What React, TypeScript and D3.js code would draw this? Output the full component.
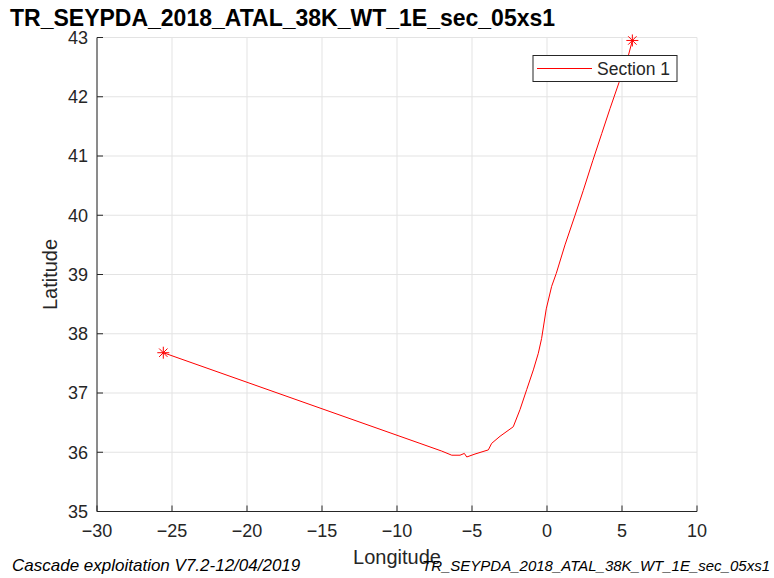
import React from "react";
import * as d3 from "d3";

// Ship track for section 1 (degrees)
const lon = [-25.58, -8.47, -7.02, -6.35, -5.8, -5.51, -5.35, -4.8, -3.91, -3.69, -3.13, -2.25, -1.8, -1.35, -0.91, -0.58, -0.36, -0.05, 0.31, 0.62, 1.2, 1.87, 2.42, 3.05, 3.65, 4.2, 4.8, 5.45, 5.69];
const lat = [37.68, 36.15, 36.02, 35.95, 35.95, 35.98, 35.92, 35.97, 36.04, 36.15, 36.27, 36.43, 36.72, 37.06, 37.39, 37.67, 37.92, 38.42, 38.8, 39.02, 39.5, 40.0, 40.42, 40.92, 41.38, 41.8, 42.24, 42.72, 42.95];

const xTicks = [-30, -25, -20, -15, -10, -5, 0, 5, 10];
const yTicks = [35, 36, 37, 38, 39, 40, 41, 42, 43];

const titleText = "TR_SEYPDA_2018_ATAL_38K_WT_1E_sec_05xs1";
const footerLeft = "Cascade exploitation V7.2-12/04/2019";
const footerRight = "TR_SEYPDA_2018_ATAL_38K_WT_1E_sec_05xs1";
const legendLabel = "Section 1";

const W = 774;
const H = 578;
const L = 97, R = 697, T = 37.5, B = 511.5;
const AX = "#262626";
const GRID = "#e3e3e3";
const FONT = "'Liberation Sans', Arial, Helvetica, sans-serif";

const fmt = (v: number) => (v < 0 ? "\u2212" + Math.abs(v) : String(v));

function Star({ x, y }: { x: number; y: number }) {
  const r = 6;
  const d = r * 0.7;
  return (
    <g stroke="#ff0000" strokeWidth={1}>
      <line x1={x - r} y1={y} x2={x + r} y2={y} />
      <line x1={x} y1={y - r} x2={x} y2={y + r} />
      <line x1={x - d} y1={y - d} x2={x + d} y2={y + d} />
      <line x1={x - d} y1={y + d} x2={x + d} y2={y - d} />
    </g>
  );
}

export default function App() {
  const x = d3.scaleLinear().domain([-30, 10]).range([L, R]);
  const y = d3.scaleLinear().domain([35, 43]).range([B, T]);
  const pts = lon.map((v, i) => [v, lat[i]] as [number, number]);
  const path = d3
    .line<[number, number]>()
    .x((d) => x(d[0]))
    .y((d) => y(d[1]))(pts) as string;
  const first = pts[0];
  const last = pts[pts.length - 1];

  return (
    <svg
      width={W}
      height={H}
      viewBox={`0 0 ${W} ${H}`}
      style={{ position: "fixed", left: 0, top: 0, background: "#fff" }}
      fontFamily={FONT}
    >
      <rect x={0} y={0} width={W} height={H} fill="#fff" />
      {/* grid */}
      {xTicks.map((t) => (
        <line key={"gx" + t} x1={x(t)} x2={x(t)} y1={T} y2={B} stroke={GRID} strokeWidth={1} />
      ))}
      {yTicks.map((t) => (
        <line key={"gy" + t} x1={L} x2={R} y1={y(t)} y2={y(t)} stroke={GRID} strokeWidth={1} />
      ))}

      {/* track */}
      <path d={path} fill="none" stroke="#ff0000" strokeWidth={1} strokeLinejoin="round" />
      <Star x={x(first[0])} y={y(first[1])} />
      <Star x={x(last[0])} y={y(last[1])} />

      {/* axes */}
      <line x1={L} x2={L} y1={T} y2={B} stroke={AX} strokeWidth={1} />
      <line x1={L} x2={R} y1={B} y2={B} stroke={AX} strokeWidth={1} />
      {yTicks.map((t) => (
        <g key={"ty" + t}>
          <line x1={L} x2={L + 6} y1={y(t)} y2={y(t)} stroke={AX} strokeWidth={1} />
          <text x={88} y={y(t)} dy="0.35em" textAnchor="end" fontSize={18} fill={AX}>
            {t}
          </text>
        </g>
      ))}
      {xTicks.map((t) => (
        <g key={"tx" + t}>
          <line x1={x(t)} x2={x(t)} y1={B} y2={B - 6} stroke={AX} strokeWidth={1} />
          <text x={x(t)} y={537} textAnchor="middle" fontSize={18} fill={AX}>
            {fmt(t)}
          </text>
        </g>
      ))}

      {/* axis labels */}
      <text
        transform={`translate(57,${(T + B) / 2}) rotate(-90)`}
        textAnchor="middle"
        fontSize={20}
        fill={AX}
      >
        Latitude
      </text>
      <text x={(L + R) / 2} y={564} textAnchor="middle" fontSize={20} fill={AX}>
        Longitude
      </text>

      {/* legend */}
      <rect x={533} y={55.5} width={144} height={26} fill="#fff" stroke={AX} strokeWidth={1} />
      <line x1={537} x2={592} y1={68.5} y2={68.5} stroke="#ff0000" strokeWidth={1} />
      <text x={597} y={68.5} dy="0.35em" fontSize={17.5} fill={AX}>
        {legendLabel}
      </text>

      {/* title */}
      <text x={10} y={26} fontSize={23} fontWeight="bold" fill="#000">
        {titleText}
      </text>

      {/* footers */}
      <text x={12} y={571} fontSize={17} fontStyle="italic" fill="#000">
        {footerLeft}
      </text>
      <text x={770} y={571} textAnchor="end" fontSize={15} fontStyle="italic" fill="#000">
        {footerRight}
      </text>
    </svg>
  );
}
